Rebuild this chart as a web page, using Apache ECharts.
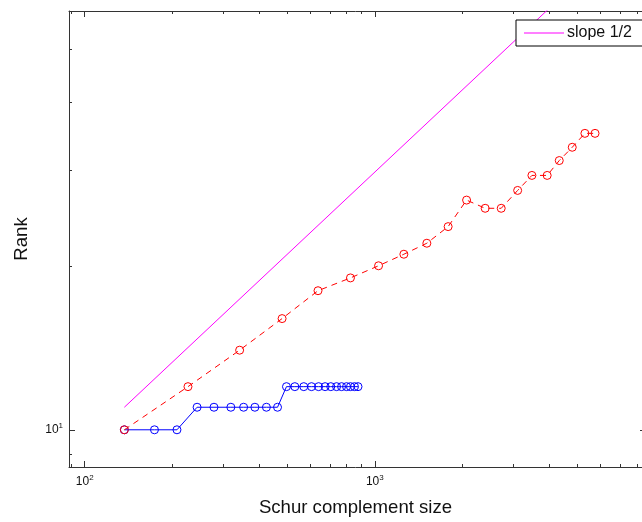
<!DOCTYPE html>
<html>
<head>
<meta charset="utf-8">
<script src="https://cdn.jsdelivr.net/npm/echarts@6/dist/echarts.min.js"></script>
<style>
  html, body { margin: 0; padding: 0; background: #fff; }
  #chart { width: 642px; height: 522px; }
</style>
</head>
<body>
<div id="chart"></div>
<script>
// blue: rank vs Schur complement size (solid, circles)
let blueSize = [137, 174, 208, 244, 279, 319, 353, 386, 423, 462, 496, 530, 569, 605, 640, 674, 705, 738, 768, 799, 824, 851, 875];
let blueRank = [10, 10, 10, 11, 11, 11, 11, 11, 11, 11, 12, 12, 12, 12, 12, 12, 12, 12, 12, 12, 12, 12, 12];

// red: dashed, circles
let redSize = [137, 227, 342, 479, 637, 824, 1030, 1259, 1511, 1789, 2071, 2400, 2726, 3106, 3478, 3926, 4321, 4790, 5296, 5740];
let redRank = [10, 12, 14, 16, 18, 19, 20, 21, 22, 23.6, 26.4, 25.5, 25.5, 27.5, 29.3, 29.3, 31.2, 33, 35, 35];

// reference line, slope 1/2
let slopeSize = [137, 5740];
let slopeRank = [11, 71.2];

let xMajor = [100, 1000];
let xMinor = [90, 200, 300, 400, 500, 600, 700, 800, 900, 2000, 3000, 4000, 5000, 6000, 7000, 8000];
let yMajor = [10];
let yMinor = [9, 20, 30, 40, 50];

let FONT = 'Liberation Sans, Arial, Helvetica, sans-serif';
let AXISCOLOR = '#333';

function pairs(xs, ys) {
	return xs.map((x, i) => [x, ys[i]]);
}

function powLabel(v) {
	return '10{s|' + Math.round(Math.log10(v)) + '}';
}

let labelRich = {
	s: { fontSize: 8, fontFamily: FONT, color: '#111', padding: [0, 0, 7, 0] }
};

function xAxisOf(pos, ticks, len, showLine, showLabel) {
	return {
		type: 'log',
		position: pos,
		min: 88.3,
		max: 8332,
		axisLine: { show: showLine, onZero: false, lineStyle: { color: AXISCOLOR, width: 1 } },
		axisTick: { show: true, inside: true, length: len, customValues: ticks, lineStyle: { color: AXISCOLOR } },
		axisLabel: {
			show: showLabel,
			customValues: ticks,
			formatter: powLabel,
			margin: 7,
			fontSize: 12,
			fontFamily: FONT,
			color: '#111',
			rich: labelRich
		},
		splitLine: { show: false },
		minorTick: { show: false }
	};
}

function yAxisOf(pos, ticks, len, showLine, showLabel) {
	return {
		type: 'log',
		position: pos,
		min: 8.545,
		max: 58.7,
		axisLine: { show: showLine, onZero: false, lineStyle: { color: AXISCOLOR, width: 1 } },
		axisTick: { show: true, inside: true, length: len, customValues: ticks, lineStyle: { color: AXISCOLOR } },
		axisLabel: {
			show: showLabel,
			customValues: ticks,
			formatter: powLabel,
			margin: 6,
			fontSize: 12,
			fontFamily: FONT,
			color: '#111',
			rich: labelRich
		},
		splitLine: { show: false },
		minorTick: { show: false }
	};
}

let xBottom = xAxisOf('bottom', xMajor, 6, true, true);
xBottom.name = 'Schur complement size';
xBottom.nameLocation = 'middle';
xBottom.nameGap = 31;
xBottom.nameTextStyle = { fontSize: 18.6, fontFamily: FONT, color: '#111' };

let yLeft = yAxisOf('left', yMajor, 6, true, true);
yLeft.name = 'Rank';
yLeft.nameLocation = 'middle';
yLeft.nameGap = 38;
yLeft.nameTextStyle = { fontSize: 18.6, fontFamily: FONT, color: '#111' };

let yRight = yAxisOf('right', yMajor, 2, false, false);

let myChart = echarts.init(document.getElementById('chart'), null, { renderer: 'canvas' });

let option = {
	backgroundColor: '#fff',
	animation: false,
	grid: {
		left: 69,
		top: 11,
		right: 0,
		bottom: 54
	},
	legend: {
		data: [{ name: 'slope 1/2', icon: 'rect' }],
		left: 516,
		top: 20,
		padding: [5, 20, 5, 8],
		itemWidth: 40,
		itemHeight: 1,
		backgroundColor: '#fff',
		borderColor: '#000',
		borderWidth: 1,
		borderRadius: 0,
		textStyle: { fontSize: 16, fontFamily: FONT, color: '#111', padding: [0, 0, 0, -2] }
	},
	xAxis: [
		xBottom,
		xAxisOf('bottom', xMinor, 3, false, false),
		xAxisOf('top', xMajor, 6, true, false),
		xAxisOf('top', xMinor, 3, false, false)
	],
	yAxis: [
		yLeft,
		yAxisOf('left', yMinor, 3, false, false),
		yRight
	],
	series: [
		{
			name: 'slope 1/2',
			type: 'line',
			data: pairs(slopeSize, slopeRank),
			symbol: 'none',
			lineStyle: { color: '#ff00ff', width: 1 },
			itemStyle: { color: '#ff00ff' },
			clip: true
		},
		{
			name: 'blue',
			type: 'line',
			data: pairs(blueSize, blueRank),
			symbol: 'circle',
			symbolSize: 8,
			lineStyle: { color: '#0000ff', width: 1 },
			itemStyle: { color: 'rgba(0,0,0,0)', borderColor: '#0000ff', borderWidth: 1 },
			clip: true
		},
		{
			name: 'red',
			type: 'line',
			data: pairs(redSize, redRank),
			symbol: 'circle',
			symbolSize: 8,
			lineStyle: { color: '#ff0000', width: 1, type: [6, 5] },
			itemStyle: { color: 'rgba(0,0,0,0)', borderColor: '#ff0000', borderWidth: 1 },
			clip: true
		}
	]
};

myChart.setOption(option);
</script>
</body>
</html>
